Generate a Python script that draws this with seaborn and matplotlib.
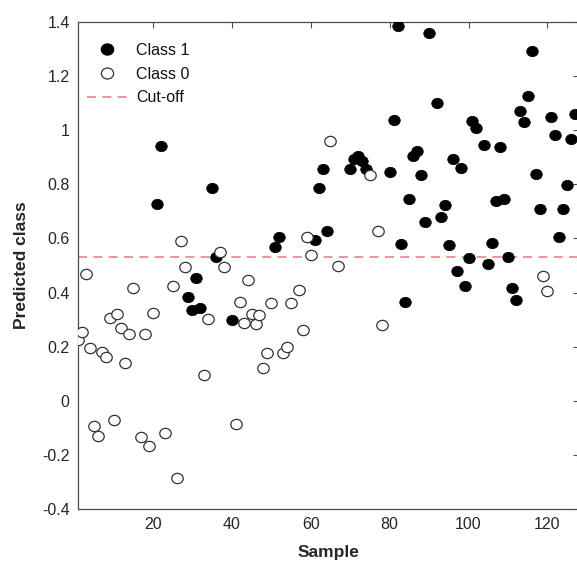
import numpy as np
import pandas as pd
import matplotlib
matplotlib.use("Agg")
import matplotlib.pyplot as plt
import seaborn as sns
from matplotlib.lines import Line2D
from matplotlib.path import Path
from matplotlib.transforms import Affine2D

# Class 0 samples (open markers)
class0_sample = [1, 2, 3, 4, 5, 6, 7, 8, 9, 10, 11, 12, 13, 14, 15, 17, 18, 19, 20,
                 23, 25, 26, 27, 28, 33, 34, 37, 38, 41, 42, 43, 44, 45, 46, 47, 48,
                 49, 50, 53, 54, 55, 57, 58, 59, 60, 65, 67, 75, 77, 78, 119, 120]
class0_pred = [0.223, 0.255, 0.467, 0.196, -0.092, -0.132, 0.179, 0.160, 0.307, -0.071,
               0.321, 0.270, 0.138, 0.246, 0.416, -0.135, 0.246, -0.166, 0.324,
               -0.120, 0.424, -0.285, 0.589, 0.496, 0.094, 0.304, 0.551, 0.496, -0.085,
               0.365, 0.286, 0.447, 0.321, 0.283, 0.318, 0.122, 0.176, 0.363, 0.176,
               0.200, 0.360, 0.410, 0.262, 0.604, 0.540, 0.960, 0.498, 0.833, 0.626,
               0.280, 0.462, 0.404]

# Class 1 samples (filled markers)
class1_sample = [21, 22, 29, 30, 31, 32, 35, 36, 40, 51, 52, 61, 62, 63, 64, 70, 71, 72,
                 73, 74, 80, 81, 82, 83, 84, 85, 86, 87, 88, 89, 90, 92, 93, 94, 95, 96,
                 97, 98, 99, 100, 101, 102, 104, 105, 106, 107, 108, 109, 110, 111, 112,
                 113, 114, 115, 116, 117, 118, 121, 122, 123, 124, 125, 126, 127]
class1_pred = [0.727, 0.940, 0.383, 0.337, 0.455, 0.344, 0.788, 0.530, 0.298, 0.568,
               0.605, 0.595, 0.787, 0.858, 0.628, 0.856, 0.895, 0.905, 0.885, 0.856,
               0.845, 1.038, 1.387, 0.578, 0.366, 0.745, 0.903, 0.923, 0.833, 0.660,
               1.360, 1.099, 0.680, 0.723, 0.574, 0.892, 0.479, 0.862, 0.426, 0.528,
               1.034, 1.009, 0.945, 0.505, 0.584, 0.737, 0.939, 0.745, 0.530, 0.415,
               0.374, 1.072, 1.032, 1.128, 1.293, 0.839, 0.708, 1.050, 0.982, 0.604,
               0.708, 0.798, 0.967, 1.060]

cutoff = 0.53

x_ticks = [20, 40, 60, 80, 100, 120]
y_ticks = [-0.4, -0.2, 0, 0.2, 0.4, 0.6, 0.8, 1, 1.2, 1.4]
y_tick_labels = ["-0.4", "-0.2", "0", "0.2", "0.4", "0.6", "0.8", "1", "1.2", "1.4"]

df0 = pd.DataFrame({"Sample": class0_sample, "Predicted class": class0_pred})
df1 = pd.DataFrame({"Sample": class1_sample, "Predicted class": class1_pred})

sns.set_theme(style="white")
plt.rcParams["font.family"] = ["Liberation Sans", "DejaVu Sans"]

# slightly wide elliptical marker
ellipse = Affine2D().scale(1.0, 0.9).transform_path(Path.unit_circle())

fig = plt.figure(figsize=(5.77, 5.63), dpi=100)
ax = fig.add_axes([78 / 577, 54 / 563, 501 / 577, 487 / 563])

spine_col = "#4d4d4d"
ms = 68
sns.scatterplot(data=df1, x="Sample", y="Predicted class", ax=ax, color="black",
                marker=ellipse, edgecolor="black", linewidth=0.6, s=ms, zorder=3,
                legend=False)
sns.scatterplot(data=df0, x="Sample", y="Predicted class", ax=ax, color="white",
                marker=ellipse, edgecolor="#333333", linewidth=0.9, s=ms, zorder=3,
                legend=False)
ax.axhline(cutoff, color="#f08a8a", linestyle=(0, (5, 3.5)), linewidth=1.3, zorder=2)

ax.set_xlim(1, 128)
ax.set_ylim(-0.4, 1.4)
ax.set_xticks(x_ticks)
ax.set_yticks(y_ticks)
ax.set_yticklabels(y_tick_labels)

ax.tick_params(direction="in", length=4, width=0.8, colors=spine_col,
               labelcolor="#262626", labelsize=11.5, top=True, right=True,
               labeltop=False, labelright=False, pad=6)
for sp in ax.spines.values():
    sp.set_color(spine_col)
    sp.set_linewidth(0.9)

ax.set_xlabel("Sample", fontsize=12.5, fontweight="bold", color="#262626", labelpad=9)
ax.set_ylabel("Predicted class", fontsize=12.5, fontweight="bold", color="#262626", labelpad=9)

handles = [
    Line2D([], [], marker=ellipse, linestyle="none", markerfacecolor="black",
           markeredgecolor="black", markersize=8.8, label="Class 1"),
    Line2D([], [], marker=ellipse, linestyle="none", markerfacecolor="white",
           markeredgecolor="#333333", markeredgewidth=0.9, markersize=8.8, label="Class 0"),
    Line2D([], [], color="#f08a8a", linestyle=(0, (5, 3.5)), linewidth=1.3, label="Cut-off"),
]
leg = ax.legend(handles=handles, loc="upper left", frameon=False, fontsize=11.5,
                handlelength=2.6, handletextpad=0.5, labelspacing=0.55,
                borderaxespad=0.3, bbox_to_anchor=(-0.005, 0.98))
for t in leg.get_texts():
    t.set_color("#111111")

fig.savefig("out.png", dpi=100, facecolor="white")
